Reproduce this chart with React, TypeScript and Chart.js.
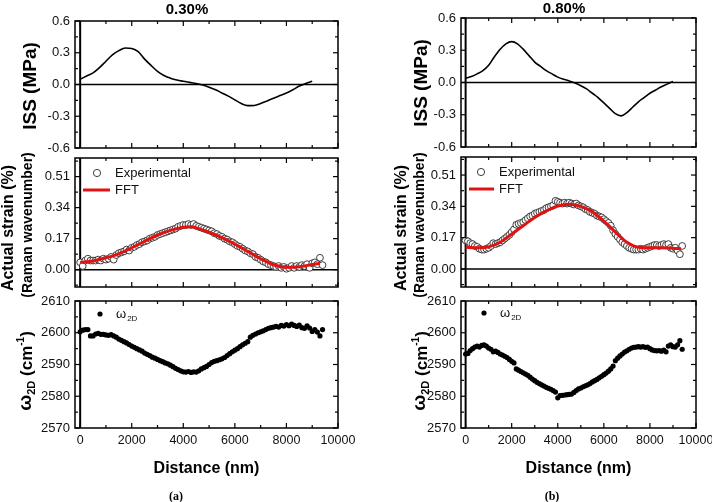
import React, { useEffect, useRef } from 'react';
import { Chart, registerables } from 'chart.js';

Chart.register(...registerables);

const FONT = "'Liberation Sans', Arial, Helvetica, sans-serif";
Chart.defaults.font.family = FONT;
Chart.defaults.color = '#111';

// ---------- axis ticks ----------
const xTickValues = [0, 2000, 4000, 6000, 8000, 10000];
const xMinorTicks = [1000, 3000, 5000, 7000, 9000];
const issTicks = [-0.6, -0.3, 0, 0.3, 0.6];
const issMinor = [-0.45, -0.15, 0.15, 0.45];
const strainTicks = [0, 0.17, 0.34, 0.51];
const strainMinor = [-0.085, 0.085, 0.255, 0.425, 0.595];
const w2dTicks = [2570, 2580, 2590, 2600, 2610];
const w2dMinor = [2575, 2585, 2595, 2605];

// ---------- data ----------
const issDistance = [0, 250, 500, 750, 1000, 1250, 1500, 1750, 2000, 2250, 2500, 2750, 3000, 3250, 3500, 3750, 4000, 4250, 4500, 4750, 5000, 5250, 5500, 5750, 6000, 6250, 6500, 6750, 7000, 7250, 7500, 7750, 8000, 8250, 8500, 8750, 9000];
const iss030 = [0.05, 0.08, 0.11, 0.16, 0.22, 0.28, 0.32, 0.345, 0.34, 0.31, 0.24, 0.18, 0.125, 0.085, 0.06, 0.042, 0.03, 0.02, 0.01, -0.005, -0.025, -0.05, -0.08, -0.11, -0.145, -0.18, -0.2, -0.198, -0.18, -0.155, -0.13, -0.105, -0.08, -0.05, -0.015, 0.01, 0.03];
const iss080 = [0.04, 0.055, 0.08, 0.11, 0.16, 0.24, 0.31, 0.36, 0.38, 0.36, 0.31, 0.25, 0.19, 0.15, 0.11, 0.08, 0.05, 0.03, 0.015, -0.005, -0.03, -0.06, -0.1, -0.14, -0.19, -0.24, -0.29, -0.31, -0.28, -0.23, -0.18, -0.14, -0.1, -0.07, -0.04, -0.015, 0.01];

const distance = [
  0, 100, 200, 300, 400, 500, 600, 700, 800, 900,
  1000, 1100, 1200, 1300, 1400, 1500, 1600, 1700, 1800, 1900,
  2000, 2100, 2200, 2300, 2400, 2500, 2600, 2700, 2800, 2900,
  3000, 3100, 3200, 3300, 3400, 3500, 3600, 3700, 3800, 3900,
  4000, 4100, 4200, 4300, 4400, 4500, 4600, 4700, 4800, 4900,
  5000, 5100, 5200, 5300, 5400, 5500, 5600, 5700, 5800, 5900,
  6000, 6100, 6200, 6300, 6400, 6500, 6600, 6700, 6800, 6900,
  7000, 7100, 7200, 7300, 7400, 7500, 7600, 7700, 7800, 7900,
  8000, 8100, 8200, 8300, 8400, 8500, 8600, 8700, 8800, 8900,
  9000, 9100, 9200, 9300, 9400,
];

const strainExp030 = [
  0.04, 0.02, 0.05, 0.06, 0.05, 0.05, 0.05, 0.055, 0.05, 0.06,
  0.055, 0.06, 0.07, 0.055, 0.08, 0.09, 0.095, 0.1, 0.11, 0.105,
  0.12, 0.125, 0.135, 0.14, 0.15, 0.155, 0.16, 0.17, 0.175, 0.18,
  0.19, 0.195, 0.2, 0.205, 0.21, 0.215, 0.22, 0.225, 0.235, 0.24,
  0.245, 0.245, 0.25, 0.245, 0.25, 0.24, 0.235, 0.23, 0.225, 0.22,
  0.215, 0.21, 0.2, 0.195, 0.185, 0.18, 0.17, 0.165, 0.155, 0.15,
  0.14, 0.13, 0.125, 0.115, 0.105, 0.1, 0.09, 0.085, 0.07, 0.065,
  0.055, 0.045, 0.04, 0.03, 0.025, 0.02, 0.015, 0.02, 0.01, 0.015,
  0.005, 0.01, 0.02, 0.01, 0.02, 0.015, 0.025, 0.02, 0.03, 0.01,
  0.035, 0.04, 0.03, 0.065, 0.025,
];
const strainExp080 = [
  0.155, 0.15, 0.14, 0.135, 0.125, 0.12, 0.11, 0.105, 0.105, 0.11,
  0.115, 0.125, 0.14, 0.135, 0.14, 0.145, 0.155, 0.165, 0.175, 0.185,
  0.2, 0.215, 0.24, 0.245, 0.25, 0.255, 0.265, 0.275, 0.285, 0.29,
  0.3, 0.305, 0.31, 0.315, 0.32, 0.33, 0.335, 0.34, 0.345, 0.37,
  0.365, 0.36, 0.355, 0.36, 0.355, 0.36, 0.355, 0.35, 0.355, 0.345,
  0.34, 0.335, 0.325, 0.32, 0.31, 0.305, 0.3, 0.29, 0.285, 0.28,
  0.27, 0.26, 0.25, 0.235, 0.21, 0.19, 0.175, 0.16, 0.145, 0.135,
  0.125, 0.115, 0.11, 0.105, 0.105, 0.105, 0.11, 0.105, 0.11, 0.115,
  0.12, 0.125, 0.13, 0.13, 0.125, 0.13, 0.135, 0.13, 0.135, 0.115,
  0.11, 0.115, 0.1, 0.08, 0.125,
];

const fftDistance030 = [0, 500, 1000, 1500, 2000, 2500, 3000, 3500, 4000, 4300, 4600, 5000, 5500, 6000, 6500, 7000, 7500, 8000, 8500, 9000, 9300];
const fft030 = [0.04, 0.048, 0.065, 0.087, 0.12, 0.155, 0.19, 0.215, 0.232, 0.235, 0.225, 0.205, 0.175, 0.14, 0.1, 0.06, 0.027, 0.013, 0.016, 0.028, 0.035];
const fftDistance080 = [0, 500, 1000, 1500, 2000, 2500, 3000, 3500, 4000, 4500, 5000, 5500, 6000, 6500, 7000, 7500, 8000, 8500, 9000, 9350];
const fft080 = [0.118, 0.115, 0.12, 0.145, 0.19, 0.235, 0.28, 0.315, 0.342, 0.352, 0.34, 0.31, 0.26, 0.2, 0.145, 0.118, 0.115, 0.115, 0.113, 0.11];

const w2d030 = [
  2600.3, 2600.8, 2601, 2601, 2599, 2599, 2599.6, 2599.8, 2599.5, 2599.5,
  2599.3, 2599.2, 2599.4, 2599, 2598.6, 2598, 2597.6, 2597.2, 2596.8, 2596.3,
  2595.8, 2595.4, 2595, 2594.6, 2594.2, 2593.6, 2593.2, 2592.8, 2592.3, 2592,
  2591.6, 2591.2, 2590.9, 2590.5, 2590.2, 2589.8, 2589.3, 2588.8, 2588.4, 2588,
  2587.7, 2587.6, 2587.8, 2587.5, 2587.7, 2587.6, 2588, 2588.6, 2589, 2589.4,
  2590, 2590.6, 2591, 2591.2, 2591.5, 2591.8, 2592.2, 2592.8, 2593.4, 2594,
  2594.5, 2595, 2595.6, 2596.2, 2596.7, 2597.2, 2598.6, 2599.2, 2599.6, 2600,
  2600.3, 2600.6, 2601, 2601.4, 2601.6, 2601.8, 2602, 2601.8, 2602.3, 2602.1,
  2602.6, 2602.2, 2602.7, 2602.3, 2602, 2602.4, 2601.6, 2601.4, 2602.2, 2601.5,
  2600.4, 2601, 2600.2, 2599, 2601,
];
const w2d080 = [
  2593.3, 2593.5, 2594.4, 2595, 2595.5, 2595.8, 2595.5, 2596, 2596.2, 2595.8,
  2595.2, 2594.8, 2594, 2594.2, 2593.8, 2593.3, 2593, 2592.6, 2592.2, 2591.6,
  2591, 2590.5, 2588.6, 2588.2, 2587.8, 2587.4, 2587, 2586.6, 2586, 2585.4,
  2584.9, 2584.4, 2584, 2583.6, 2583.2, 2582.8, 2582.5, 2582.2, 2581.8, 2581.3,
  2579.5, 2580.2, 2580.3, 2580.4, 2580.5, 2580.6, 2580.7, 2581.2, 2581.8, 2582.3,
  2582.6, 2583, 2583.3, 2583.6, 2584, 2584.5, 2584.9, 2585.3, 2585.8, 2586.3,
  2586.8, 2587.3, 2587.9, 2588.6, 2589.5, 2591.2, 2592, 2592.7, 2593.3, 2593.9,
  2594.3, 2594.8, 2595.2, 2595.4, 2595.5, 2595.6, 2595.5, 2595.6, 2595.4, 2595.5,
  2595, 2594.6, 2594.4, 2594.3, 2594.4, 2594.2, 2594.5, 2594, 2595.8, 2596.2,
  2595.6, 2595.5, 2596.2, 2597.5, 2594.8,
];

const pts = (xs: number[], ys: number[]) => xs.map((x, i) => ({ x, y: ys[i] }));

// ---------- styles ----------
const issDataset = (ys: number[]) => ({
  label: 'ISS', data: pts(issDistance, ys), showLine: true, borderColor: '#000', borderWidth: 1.6,
  pointRadius: 0, cubicInterpolationMode: 'monotone', fill: false,
});
const fftDataset = (xs: number[], ys: number[]) => ({
  label: 'FFT', data: pts(xs, ys), showLine: true, borderColor: '#e01212', borderWidth: 3,
  pointRadius: 0, cubicInterpolationMode: 'monotone', fill: false, order: 0,
});
const expDataset = (ys: number[]) => ({
  label: 'Experimental', data: pts(distance, ys), showLine: false, pointRadius: 3.4,
  pointBorderColor: '#2a2a2a', pointBorderWidth: 0.9, pointBackgroundColor: '#fff',
  borderColor: '#2a2a2a', backgroundColor: '#fff', order: 1,
});
const w2dDataset = (ys: number[]) => ({
  label: 'ω2D', data: pts(distance, ys), showLine: false, pointRadius: 2.6,
  pointBackgroundColor: '#000', pointBorderWidth: 0, backgroundColor: '#000', borderColor: '#000',
});

type Seg = { t: string; f: string; dy?: number };
type YTitle = { cx: number; cy: number; segs: Seg[] };
type Txt = { t: string; x: number; y: number; f: string };
type Leg = { kind: 'circle' | 'line' | 'dot'; x: number; y: number; x2?: number; tx: number; label: string; sub?: string };

type PanelDef = {
  left: number; top: number; w: number; h: number;
  padTop: number; padBottom: number; padRight: number; yWidth: number;
  yMin: number; yMax: number; yTicks: number[]; yMinor: number[]; yDec: number;
  zeroY: boolean; showX: boolean; datasets: any[];
  yTitles: YTitle[]; texts: Txt[]; legend: Leg[];
};

function drawRotated(ctx: CanvasRenderingContext2D, t: YTitle) {
  let total = 0;
  const widths: number[] = [];
  for (const s of t.segs) {
    ctx.font = s.f;
    const w = ctx.measureText(s.t).width;
    widths.push(w);
    total += w;
  }
  ctx.save();
  ctx.translate(t.cx, t.cy);
  ctx.rotate(-Math.PI / 2);
  ctx.textAlign = 'left';
  ctx.textBaseline = 'middle';
  ctx.fillStyle = '#000';
  let x = -total / 2;
  t.segs.forEach((s, i) => {
    ctx.font = s.f;
    ctx.fillText(s.t, x, s.dy || 0);
    x += widths[i];
  });
  ctx.restore();
}

function framePlugin(p: PanelDef) {
  return {
    id: 'originFrame',
    beforeDatasetsDraw(chart: any) {
      const { ctx, chartArea: a, scales } = chart;
      ctx.save();
      ctx.strokeStyle = '#000';
      if (p.zeroY) {
        const y = scales.y.getPixelForValue(0);
        ctx.lineWidth = 1.5;
        ctx.beginPath(); ctx.moveTo(a.left, y); ctx.lineTo(a.right, y); ctx.stroke();
      }
      const x0 = scales.x.getPixelForValue(0);
      ctx.lineWidth = 2;
      ctx.beginPath(); ctx.moveTo(x0, a.top); ctx.lineTo(x0, a.bottom); ctx.stroke();
      ctx.restore();
    },
    afterDatasetsDraw(chart: any) {
      const { ctx, chartArea: a, scales } = chart;
      ctx.save();
      ctx.strokeStyle = '#000';
      ctx.lineWidth = 1.2;
      const tick = (x1: number, y1: number, x2: number, y2: number) => {
        ctx.beginPath(); ctx.moveTo(x1, y1); ctx.lineTo(x2, y2); ctx.stroke();
      };
      for (const v of xTickValues) {
        const x = scales.x.getPixelForValue(v);
        tick(x, a.bottom, x, a.bottom - 5); tick(x, a.top, x, a.top + 5);
      }
      for (const v of xMinorTicks) {
        const x = scales.x.getPixelForValue(v);
        tick(x, a.bottom, x, a.bottom - 3); tick(x, a.top, x, a.top + 3);
      }
      for (const v of p.yTicks) {
        const y = scales.y.getPixelForValue(v);
        tick(a.left, y, a.left + 5, y); tick(a.right, y, a.right - 5, y);
      }
      for (const v of p.yMinor) {
        const y = scales.y.getPixelForValue(v);
        tick(a.left, y, a.left + 3, y); tick(a.right, y, a.right - 3, y);
      }
      ctx.lineWidth = 1.5;
      ctx.strokeRect(a.left, a.top, a.right - a.left, a.bottom - a.top);
      ctx.restore();
    },
    afterDraw(chart: any) {
      const { ctx } = chart;
      ctx.save();
      ctx.translate(-p.left, -p.top);
      for (const t of p.yTitles) drawRotated(ctx, t);
      ctx.fillStyle = '#000';
      ctx.textBaseline = 'middle';
      for (const t of p.texts) {
        ctx.font = t.f;
        ctx.textAlign = 'center';
        ctx.fillText(t.t, t.x, t.y);
      }
      for (const l of p.legend) {
        ctx.textAlign = 'left';
        if (l.kind === 'circle') {
          ctx.beginPath(); ctx.arc(l.x, l.y, 3.6, 0, Math.PI * 2);
          ctx.fillStyle = '#fff'; ctx.fill();
          ctx.strokeStyle = '#2a2a2a'; ctx.lineWidth = 0.9; ctx.stroke();
        } else if (l.kind === 'dot') {
          ctx.beginPath(); ctx.arc(l.x, l.y, 2.6, 0, Math.PI * 2);
          ctx.fillStyle = '#000'; ctx.fill();
        } else {
          ctx.strokeStyle = '#e01212'; ctx.lineWidth = 3;
          ctx.beginPath(); ctx.moveTo(l.x, l.y); ctx.lineTo(l.x2 || l.x, l.y); ctx.stroke();
        }
        ctx.fillStyle = '#111';
        ctx.font = `13px ${FONT}`;
        ctx.fillText(l.label, l.tx, l.y);
        if (l.sub) {
          const w = ctx.measureText(l.label).width;
          ctx.font = `8px ${FONT}`;
          ctx.fillText(l.sub, l.tx + w + 1, l.y + 5);
        }
      }
      ctx.restore();
    },
  };
}

function buildConfig(p: PanelDef): any {
  return {
    type: 'scatter',
    data: { datasets: p.datasets },
    options: {
      animation: false,
      responsive: false,
      devicePixelRatio: 1,
      events: [],
      layout: { padding: { left: 0, right: p.padRight, top: p.padTop, bottom: p.padBottom } },
      plugins: { legend: { display: false }, tooltip: { enabled: false }, title: { display: false } },
      scales: {
        x: {
          type: 'linear', min: -200, max: 10000, display: p.showX,
          afterBuildTicks: (s: any) => { s.ticks = xTickValues.map((v) => ({ value: v })); },
          ticks: { padding: 5, font: { size: 12.5 }, color: '#111', maxRotation: 0, autoSkip: false, callback: (v: any) => String(v) },
          grid: { display: false, drawTicks: false },
          border: { display: false },
          title: { display: p.showX, text: 'Distance (nm)', font: { size: 16, weight: 'bold' }, color: '#000', padding: 0 },
          afterFit: (s: any) => { if (p.showX) s.height = 50; s.paddingLeft = 0; s.paddingRight = 0; },
        },
        y: {
          type: 'linear', min: p.yMin, max: p.yMax,
          afterBuildTicks: (s: any) => { s.ticks = p.yTicks.map((v) => ({ value: v })); },
          ticks: { padding: 5, font: { size: 13 }, color: '#111', autoSkip: false, callback: (v: any) => Number(v).toFixed(p.yDec) },
          grid: { display: false, drawTicks: false },
          border: { display: false },
          afterFit: (s: any) => { s.width = p.yWidth; s.paddingTop = 0; s.paddingBottom = 0; },
        },
      },
    },
    plugins: [framePlugin(p)],
  };
}

const B = (n: number) => `bold ${n}px ${FONT}`;
const SERIF_B = `bold 12px 'Liberation Serif', 'Times New Roman', serif`;

function omegaTitle(cx: number, cy: number): YTitle {
  return {
    cx, cy,
    segs: [
      { t: 'ω', f: B(19), dy: -2 },
      { t: '2D', f: B(11), dy: 4 },
      { t: ' (cm', f: B(17) },
      { t: '-1', f: B(10), dy: -6 },
      { t: ')', f: B(17) },
    ],
  };
}

const LEFT = { left: 0, w: 356, yWidth: 75, padRight: 18 };
const RIGHT = { left: 356, w: 356, yWidth: 105, padRight: 16 };

const panels: PanelDef[] = [
  // ---- (a) 0.30% ----
  {
    ...LEFT, top: 0, h: 170, padTop: 21, padBottom: 22,
    yMin: -0.6, yMax: 0.6, yTicks: issTicks, yMinor: issMinor, yDec: 1, zeroY: true, showX: false,
    datasets: [issDataset(iss030)],
    yTitles: [{ cx: 31, cy: 86, segs: [{ t: 'ISS (MPa)', f: B(19) }] }],
    texts: [{ t: '0.30%', x: 187, y: 10, f: B(15) }],
    legend: [],
  },
  {
    ...LEFT, top: 135, h: 175, padTop: 23, padBottom: 23,
    yMin: -0.095, yMax: 0.612, yTicks: strainTicks, yMinor: strainMinor, yDec: 2, zeroY: true, showX: false,
    datasets: [fftDataset(fftDistance030, fft030), expDataset(strainExp030)],
    yTitles: [
      { cx: 9, cy: 228, segs: [{ t: 'Actual strain (%)', f: B(16) }] },
      { cx: 28, cy: 225, segs: [{ t: '(Raman wavenumber)', f: B(14) }] },
    ],
    texts: [],
    legend: [
      { kind: 'circle', x: 97, y: 173, tx: 115, label: 'Experimental' },
      { kind: 'line', x: 83, x2: 110, y: 190, tx: 115, label: 'FFT' },
    ],
  },
  {
    ...LEFT, top: 280, h: 222, padTop: 21, padBottom: 24,
    yMin: 2570, yMax: 2610, yTicks: w2dTicks, yMinor: w2dMinor, yDec: 0, zeroY: false, showX: true,
    datasets: [w2dDataset(w2d030)],
    yTitles: [omegaTitle(27.5, 371)],
    texts: [{ t: '(a)', x: 176, y: 497, f: SERIF_B }],
    legend: [{ kind: 'dot', x: 100, y: 314, tx: 116, label: 'ω', sub: '2D' }],
  },
  // ---- (b) 0.80% ----
  {
    ...RIGHT, top: 0, h: 170, padTop: 18, padBottom: 23,
    yMin: -0.6, yMax: 0.6, yTicks: issTicks, yMinor: issMinor, yDec: 1, zeroY: true, showX: false,
    datasets: [issDataset(iss080)],
    yTitles: [{ cx: 422, cy: 83, segs: [{ t: 'ISS (MPa)', f: B(19) }] }],
    texts: [{ t: '0.80%', x: 564, y: 9, f: B(15) }],
    legend: [],
  },
  {
    ...RIGHT, top: 135, h: 175, padTop: 22, padBottom: 23,
    yMin: -0.098, yMax: 0.608, yTicks: strainTicks, yMinor: strainMinor, yDec: 2, zeroY: true, showX: false,
    datasets: [fftDataset(fftDistance080, fft080), expDataset(strainExp080)],
    yTitles: [
      { cx: 402, cy: 228, segs: [{ t: 'Actual strain (%)', f: B(16) }] },
      { cx: 420, cy: 225, segs: [{ t: '(Raman wavenumber)', f: B(14) }] },
    ],
    texts: [],
    legend: [
      { kind: 'circle', x: 481, y: 172, tx: 499, label: 'Experimental' },
      { kind: 'line', x: 469, x2: 494, y: 189, tx: 499, label: 'FFT' },
    ],
  },
  {
    ...RIGHT, top: 280, h: 222, padTop: 21, padBottom: 24,
    yMin: 2570, yMax: 2610, yTicks: w2dTicks, yMinor: w2dMinor, yDec: 0, zeroY: false, showX: true,
    datasets: [w2dDataset(w2d080)],
    yTitles: [omegaTitle(422, 371)],
    texts: [{ t: '(b)', x: 552, y: 497, f: SERIF_B }],
    legend: [{ kind: 'dot', x: 484, y: 313, tx: 500, label: 'ω', sub: '2D' }],
  },
];

function Panel({ p }: { p: PanelDef }) {
  const ref = useRef<HTMLCanvasElement>(null);
  useEffect(() => {
    const chart = new Chart(ref.current as HTMLCanvasElement, buildConfig(p));
    return () => chart.destroy();
  }, [p]);
  return (
    <canvas
      ref={ref}
      width={p.w}
      height={p.h}
      style={{ position: 'absolute', left: p.left, top: p.top, width: p.w, height: p.h }}
    />
  );
}

export default function App() {
  return (
    <div style={{ position: 'fixed', left: 0, top: 0, width: 712, height: 502, background: '#fff', overflow: 'hidden' }}>
      {panels.map((p, i) => (
        <Panel key={i} p={p} />
      ))}
    </div>
  );
}
